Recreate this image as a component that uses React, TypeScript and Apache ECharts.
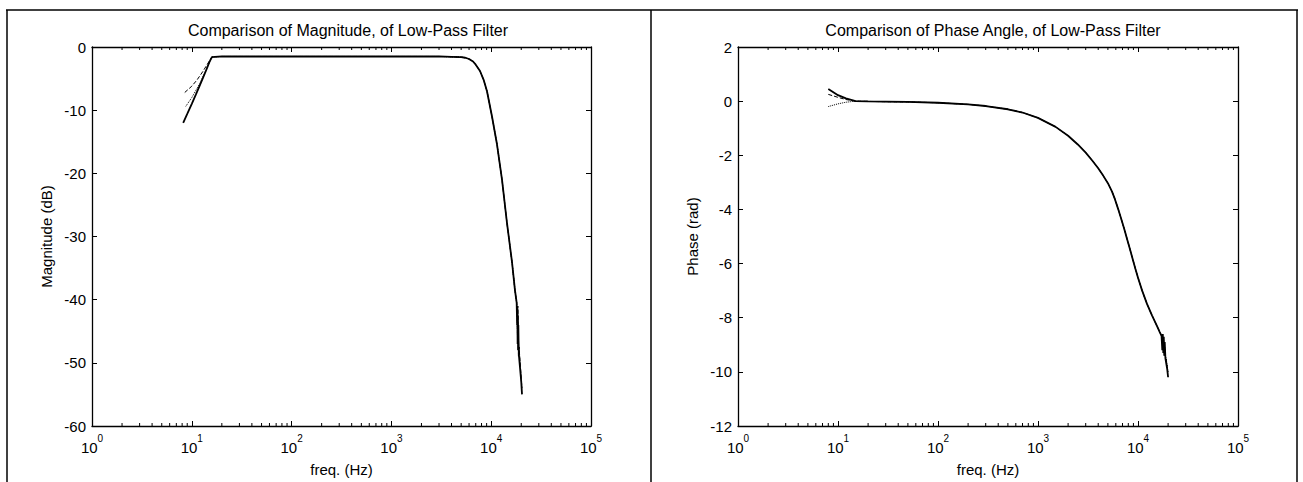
import React, { useEffect, useRef } from "react";
import * as echarts from "echarts";

// ---------- data ----------
const MAG_TITLE = "Comparison of Magnitude, of Low-Pass Filter";
const PHASE_TITLE = "Comparison of Phase Angle, of Low-Pass Filter";
const X_NAME = "freq. (Hz)";
const MAG_NAME = "Magnitude (dB)";
const PHASE_NAME = "Phase (rad)";

// magnitude (dB) – individual starts of the three traces
const magHeadSolid: [number, number][] = [
  [8.2, -12], [9, -10.6], [10, -9.0], [11, -7.5], [12, -6.1], [13, -4.8], [14, -3.6], [15, -2.4], [15.9, -1.6],
];
const magHeadDashed: [number, number][] = [
  [8.5, -7.2], [10, -6.2], [11.3, -5.2], [13, -3.8], [15, -2.2], [15.9, -1.6],
];
const magHeadDotted: [number, number][] = [
  [8.7, -9.4], [10, -8.0], [12, -5.8], [14, -3.5], [15.9, -1.6],
];
// common part of the magnitude traces
const magTail: [number, number][] = [
  [17, -1.55], [20, -1.5], [30, -1.5], [50, -1.5], [100, -1.5], [200, -1.5], [500, -1.5], [1000, -1.5],
  [2000, -1.5], [3000, -1.5], [4000, -1.55], [5000, -1.6], [5500, -1.7], [6000, -1.9], [6577, -2.3],
  [7000, -2.8], [7724, -3.8], [8400, -5.2], [9075, -7.0], [10186, -11.0], [11430, -15.4], [12830, -21],
  [14400, -27.9], [16150, -34], [17300, -38.5], [18000, -40.5],
];
const magNoiseSolid: [number, number][] = [
  [18200, -44], [18300, -41.5], [18400, -47], [18500, -42.5], [18600, -48], [18700, -44], [18800, -46.5],
  [19000, -49], [19500, -51], [20000, -53], [20360, -55],
];
const magNoiseDashed: [number, number][] = [
  [18200, -42], [18350, -46], [18450, -41], [18600, -45], [18750, -49], [19000, -47.5], [19500, -50],
  [20000, -52.5], [20300, -54],
];

// phase (rad)
const phaseHeadSolid: [number, number][] = [[8, 0.45], [10, 0.22], [12, 0.1], [15, 0.0]];
const phaseHeadDashed: [number, number][] = [[8, 0.25], [10, 0.14], [12, 0.06], [15, 0.0]];
const phaseHeadDotted: [number, number][] = [[8, -0.2], [10, -0.1], [12, -0.04], [15, 0.0]];
const phaseTail: [number, number][] = [
  [20, -0.01], [30, -0.02], [50, -0.03], [100, -0.06], [200, -0.12], [300, -0.18], [500, -0.3],
  [700, -0.42], [1000, -0.62], [1500, -0.95], [2000, -1.28], [2500, -1.6], [3000, -1.9], [3500, -2.2],
  [4000, -2.48], [4500, -2.76], [5000, -3.03], [5500, -3.34], [5890, -3.63], [6300, -3.96], [6800, -4.35],
  [7300, -4.73], [7760, -5.08], [8300, -5.46], [8800, -5.8], [9400, -6.18], [10000, -6.52], [11000, -7.0],
  [12300, -7.49], [13800, -7.91], [15500, -8.31], [16500, -8.53], [17200, -8.67],
];
const phaseNoiseSolid: [number, number][] = [
  [17500, -9.2], [17700, -8.6], [17900, -9.3], [18100, -8.7], [18300, -9.4], [18500, -8.9],
  [18800, -9.5], [19200, -9.7], [19600, -9.9], [20000, -10.2],
];
const phaseNoiseDashed: [number, number][] = [
  [17600, -8.8], [17800, -9.1], [18000, -8.8], [18200, -9.2], [18400, -9.0], [18700, -9.4],
  [19100, -9.5], [19600, -9.8], [19900, -10.0],
];

// axes
const X_MIN = 1;
const X_MAX = 100000;
const MAG_MIN = -60;
const MAG_MAX = 0;
const MAG_STEP = 10;
const PHASE_MIN = -12;
const PHASE_MAX = 2;
const PHASE_STEP = 2;
const MINOR_TICKS = [
  2, 3, 4, 5, 6, 7, 8, 9,
  20, 30, 40, 50, 60, 70, 80, 90,
  200, 300, 400, 500, 600, 700, 800, 900,
  2000, 3000, 4000, 5000, 6000, 7000, 8000, 9000,
  20000, 30000, 40000, 50000, 60000, 70000, 80000, 90000,
];

const FONT = "'Liberation Sans', Arial, Helvetica, sans-serif";

export default function App() {
  const ref = useRef<HTMLDivElement>(null);

  useEffect(() => {
    if (!ref.current) return;
    const chart = echarts.init(ref.current, null, { renderer: "svg" });

    const grids = [
      { left: 92, top: 47, width: 499, height: 386 },
      { left: 738, top: 47, width: 500, height: 386 },
    ];

    const xLabel = (v: number) => `{b|10}{s|${Math.round(Math.log10(v))}}`;

    const xAxes: any[] = [];
    const yAxes: any[] = [];
    const yDefs = [
      { min: MAG_MIN, max: MAG_MAX, step: MAG_STEP, name: MAG_NAME },
      { min: PHASE_MIN, max: PHASE_MAX, step: PHASE_STEP, name: PHASE_NAME },
    ];
    for (let g = 0; g < 2; g++) {
      const axisLine = { show: true, onZero: false, lineStyle: { color: "#000", width: 1.3 } };
      const axisTick = { show: true, inside: true, length: 5, lineStyle: { color: "#000", width: 1 } };
      xAxes.push({
        type: "log", logBase: 10, gridIndex: g, min: X_MIN, max: X_MAX, position: "bottom",
        axisLine, axisTick, splitLine: { show: false },
        name: X_NAME, nameLocation: "middle", nameGap: 36,
        nameTextStyle: { color: "#000", fontSize: 15, fontFamily: FONT },
        axisLabel: {
          color: "#000", margin: 7, formatter: xLabel,
          rich: {
            b: { fontSize: 15, fontFamily: FONT, color: "#000", lineHeight: 22, verticalAlign: "bottom" },
            s: { fontSize: 10, fontFamily: FONT, color: "#000", lineHeight: 22, verticalAlign: "top" },
          },
        },
      });
      xAxes.push({
        type: "log", logBase: 10, gridIndex: g, min: X_MIN, max: X_MAX, position: "top",
        axisLine, axisTick, axisLabel: { show: false }, splitLine: { show: false },
      });
      const d = yDefs[g];
      yAxes.push({
        type: "value", gridIndex: g, min: d.min, max: d.max, interval: d.step, position: "left",
        axisLine, axisTick, splitLine: { show: false },
        axisLabel: { color: "#000", fontSize: 15, fontFamily: FONT, margin: 6 },
        name: d.name, nameLocation: "middle", nameGap: 38, nameRotate: 90,
        nameTextStyle: { color: "#000", fontSize: 15, fontFamily: FONT },
      });
      yAxes.push({
        type: "value", gridIndex: g, min: d.min, max: d.max, interval: d.step, position: "right",
        axisLine, axisTick, axisLabel: { show: false }, splitLine: { show: false },
      });
    }

    const line = (data: [number, number][], xi: number, yi: number, type: string, width: number) => ({
      type: "line", xAxisIndex: xi, yAxisIndex: yi, data, showSymbol: false, symbol: "none",
      lineStyle: { color: "#000", width, type }, silent: true,
    });

    const minorSeries = (g: number, yMin: number, yMax: number) => ({
      type: "custom", xAxisIndex: g * 2, yAxisIndex: g * 2, silent: true, clip: false,
      encode: { x: 0, y: 1 },
      data: MINOR_TICKS.map((f) => [f, yMin, yMax]),
      renderItem: (_p: any, api: any) => {
        const f = api.value(0);
        const pb = api.coord([f, api.value(1)]);
        const pt = api.coord([f, api.value(2)]);
        return {
          type: "group",
          children: [
            { type: "line", shape: { x1: pb[0], y1: pb[1], x2: pb[0], y2: pb[1] - 3 }, style: { stroke: "#000", lineWidth: 1 } },
            { type: "line", shape: { x1: pt[0], y1: pt[1], x2: pt[0], y2: pt[1] + 3 }, style: { stroke: "#000", lineWidth: 1 } },
          ],
        };
      },
    });

    const series: any[] = [
      line([...magHeadDotted, ...magTail, ...magNoiseDashed], 0, 0, "dotted", 1),
      line([...magHeadDashed, ...magTail, ...magNoiseDashed], 0, 0, "dashed", 1),
      line([...magHeadSolid, ...magTail, ...magNoiseSolid], 0, 0, "solid", 1.8),
      line([...phaseHeadDotted, ...phaseTail, ...phaseNoiseDashed], 2, 2, "dotted", 1),
      line([...phaseHeadDashed, ...phaseTail, ...phaseNoiseDashed], 2, 2, "dashed", 1),
      line([...phaseHeadSolid, ...phaseTail, ...phaseNoiseSolid], 2, 2, "solid", 1.8),
      minorSeries(0, MAG_MIN, MAG_MAX),
      minorSeries(1, PHASE_MIN, PHASE_MAX),
    ];

    chart.setOption({
      animation: false,
      backgroundColor: "#fff",
      title: [
        { text: MAG_TITLE, left: 343, top: 17, textAlign: "center", textStyle: { color: "#000", fontSize: 16, fontWeight: "normal", fontFamily: FONT } },
        { text: PHASE_TITLE, left: 988, top: 17, textAlign: "center", textStyle: { color: "#000", fontSize: 16, fontWeight: "normal", fontFamily: FONT } },
      ],
      grid: grids,
      xAxis: xAxes,
      yAxis: yAxes,
      series,
      graphic: [
        { type: "line", shape: { x1: 6, y1: 10, x2: 1298, y2: 10 }, style: { stroke: "#000", lineWidth: 1.5 } },
        { type: "line", shape: { x1: 7, y1: 10, x2: 7, y2: 482 }, style: { stroke: "#000", lineWidth: 1.5 } },
        { type: "line", shape: { x1: 651, y1: 10, x2: 651, y2: 482 }, style: { stroke: "#000", lineWidth: 1.5 } },
        { type: "line", shape: { x1: 1297, y1: 10, x2: 1297, y2: 482 }, style: { stroke: "#000", lineWidth: 1.5 } },
      ],
    });

    return () => chart.dispose();
  }, []);

  return (
    <div
      ref={ref}
      style={{ position: "fixed", left: 0, top: 0, width: 1303, height: 482, background: "#fff" }}
    />
  );
}
